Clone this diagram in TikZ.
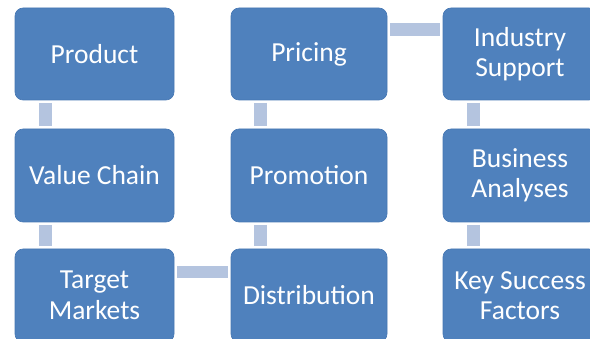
\documentclass[tikz,border=0pt]{standalone}
\usepackage{fontspec}
\setmainfont{Carlito}
\definecolor{boxblue}{HTML}{4F81BD}
\definecolor{boxedge}{HTML}{4677B3}
\definecolor{connblue}{HTML}{B4C4DF}
\begin{document}
\begin{tikzpicture}[x=1pt,y=-1pt,
  blk/.style={draw=boxedge, line width=0.6pt, fill=boxblue, rounded corners=8pt,
    text=white, align=center, inner sep=0pt,
    font=\fontsize{27.5}{30.5}\selectfont},
  conn/.style={draw=connblue, line width=13pt, line cap=butt}]
\useasboundingbox (0,0) rectangle (590,339);
\node[blk, minimum width=159pt, minimum height=92pt] (prod) at (94.5,54) {Product};
\node[blk, minimum width=159pt, minimum height=93pt] (vc) at (94.5,175.5) {Value Chain};
\node[blk, minimum width=159pt, minimum height=93pt] (tm) at (94.5,295.5) {Target\\Markets};
\node[blk, minimum width=156pt, minimum height=92pt] (pri) at (309,54) {Pricing};
\node[blk, minimum width=156pt, minimum height=93pt] (pro) at (309,175.5) {Promotion};
\node[blk, minimum width=156pt, minimum height=93pt] (dist) at (309,295.5) {Distribution};
\node[blk, minimum width=154pt, minimum height=92pt] (ind) at (520,54) {Industry\\Support};
\node[blk, minimum width=154pt, minimum height=93pt] (bus) at (520,175.5) {Business\\Analyses};
\node[blk, minimum width=154pt, minimum height=93pt] (key) at (520,295.5) {Key Success\\Factors};
\begin{scope}[shorten <=2.5pt, shorten >=2.5pt]
\draw[conn] ([xshift=31pt]prod.south west) -- ([xshift=31pt]vc.north west);
\draw[conn] ([xshift=31pt]vc.south west) -- ([xshift=31pt]tm.north west);
\draw[conn] ([xshift=29.5pt]pri.south west) -- ([xshift=29.5pt]pro.north west);
\draw[conn] ([xshift=29.5pt]pro.south west) -- ([xshift=29.5pt]dist.north west);
\draw[conn] ([xshift=31pt]ind.south west) -- ([xshift=31pt]bus.north west);
\draw[conn] ([xshift=31pt]bus.south west) -- ([xshift=31pt]key.north west);
\draw[conn, line width=11.5pt] ([yshift=-23.5pt]tm.north east) -- ([yshift=-23.5pt]dist.north west);
\draw[conn] ([yshift=-21.5pt]pri.north east) -- ([yshift=-21.5pt]ind.north west);
\end{scope}
\end{tikzpicture}
\end{document}
